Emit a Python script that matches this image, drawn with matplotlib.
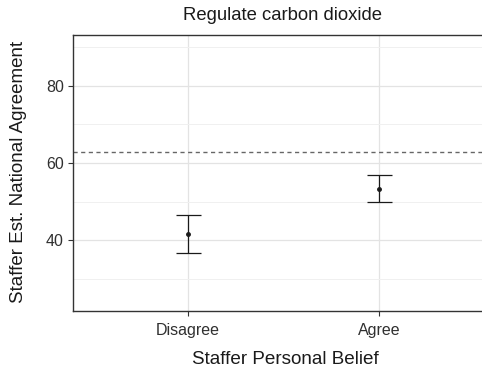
import matplotlib
matplotlib.use("Agg")
import matplotlib.pyplot as plt

categories = ["Disagree", "Agree"]
estimates = [41.6, 53.3]
lower = [36.7, 49.8]
upper = [46.5, 56.9]
reference_level = 62.9
y_ticks = [40, 60, 80]
y_minor = [30, 50, 70, 90]

plt.rcParams["font.family"] = ["Liberation Sans", "DejaVu Sans"]

fig = plt.figure(figsize=(4.82, 3.70), dpi=100)
W, H = 482, 370
left, right, top, bottom = 73, 484, 35, 311
ax = fig.add_axes([left / W, 1 - bottom / H, (right - left) / W, (bottom - top) / H])

x = list(range(1, len(categories) + 1))
yerr = [[e - l for e, l in zip(estimates, lower)], [u - e for e, u in zip(estimates, upper)]]
ax.errorbar(x, estimates, yerr=yerr, fmt="o", color="#1a1a1a", ms=2.5,
            elinewidth=0.9, capsize=9, capthick=0.9, zorder=3)
ax.axhline(reference_level, color="#666666", lw=1.0, ls=(0, (3, 2.5)), zorder=2)

ax.set_xlim(0.4, 2.55)
ax.set_ylim(21.6, 93.2)
ax.set_xticks(x)
ax.set_xticklabels(categories)
ax.set_yticks(y_ticks)
ax.set_yticks(y_minor, minor=True)
ax.grid(True, which="major", color="#e3e3e3", lw=0.9)
ax.grid(True, which="minor", axis="y", color="#f0f0f0", lw=0.7)
ax.set_axisbelow(True)

for s in ["left", "bottom", "top"]:
    ax.spines[s].set_color("#333333")
    ax.spines[s].set_linewidth(1.0)
ax.spines["right"].set_visible(False)
ax.tick_params(axis="both", which="major", length=3.5, width=0.8, color="#333333",
               labelsize=11.5, labelcolor="#303030", pad=3)
ax.tick_params(axis="x", which="major", pad=5)
ax.tick_params(axis="y", which="minor", length=0)

fig.text(285 / W, 1 - 359 / H, "Staffer Personal Belief", ha="center", va="center",
         fontsize=13.6, color="#1a1a1a")
fig.text(18.5 / W, 1 - 172 / H, "Staffer Est. National Agreement", ha="center", va="center",
         rotation=90, fontsize=13.5, color="#1a1a1a")
fig.text(282.5 / W, 1 - 15 / H, "Regulate carbon dioxide", ha="center", va="center",
         fontsize=13.3, color="#1a1a1a")

fig.savefig("out.png", dpi=100)
